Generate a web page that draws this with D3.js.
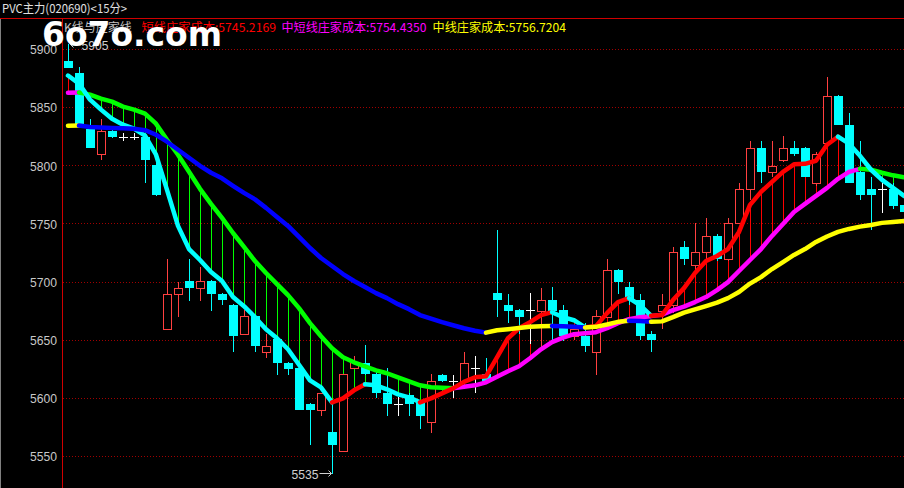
<!DOCTYPE html>
<html><head><meta charset="utf-8">
<script src="https://cdn.jsdelivr.net/npm/d3@7/dist/d3.min.js"></script>
<style>html,body{margin:0;padding:0;background:#000;overflow:hidden}</style>
</head><body>
<svg id="c" width="904" height="488" style="display:block;background:#000"></svg>
<script>
// ---- data ----
const title = "PVC主力(020690)<15分>";
const indicatorName = "K线与庄家线";
const legendLabels = ["短线庄家成本:5745.2169", "中短线庄家成本:5754.4350", "中线庄家成本:5756.7204"];
const yTicks = [5550, 5600, 5650, 5700, 5750, 5800, 5850, 5900];

const opens  = [5890,5880,5832,5810,5830,5825,5825,5825,5801,5660,5690,5701,5695,5701,5690,5680,5655,5671,5640,5651,
                5630,5626,5595,5590,5571,5555,5626,5630,5621,5605,5595,5603,5597,5580,5620,5615,5615,5626,5621,5691,
                5680,5676,5676,5675,5685,5676,5654,5654,5640,5670,5710,5696,5685,5655,5675,5680,5730,5715,5726,5740,
                5720,5751,5780,5815,5795,5805,5815,5815,5785,5820,5860,5835,5795,5780,5780,5780,5766];
const highs  = [5905,5885,5840,5840,5831,5828,5828,5827,5803,5720,5700,5720,5713,5702,5691,5681,5676,5672,5655,5652,
                5631,5627,5596,5605,5595,5621,5636,5646,5623,5626,5601,5605,5598,5621,5621,5620,5640,5636,5635,5745,
                5690,5677,5691,5695,5696,5680,5663,5665,5676,5720,5711,5700,5690,5658,5690,5730,5735,5751,5755,5741,
                5755,5785,5821,5821,5821,5826,5821,5816,5812,5876,5861,5845,5821,5790,5785,5785,5767];
const lows   = [5884,5835,5815,5805,5824,5821,5822,5785,5774,5660,5670,5684,5684,5675,5680,5640,5655,5640,5635,5620,
                5620,5590,5560,5585,5535,5555,5626,5620,5600,5585,5585,5585,5574,5570,5614,5600,5615,5605,5615,5670,
                5665,5655,5647,5641,5650,5649,5650,5640,5620,5670,5690,5680,5650,5640,5660,5673,5715,5708,5720,5718,
                5718,5750,5771,5785,5790,5803,5808,5790,5783,5818,5835,5785,5771,5745,5759,5763,5760];
const closes = [5884,5836,5815,5830,5825,5825,5825,5805,5775,5690,5695,5695,5701,5690,5685,5654,5671,5645,5645,5630,
                5625,5590,5590,5605,5560,5621,5631,5621,5605,5595,5595,5595,5585,5615,5615,5615,5630,5626,5615,5685,
                5675,5670,5676,5685,5675,5654,5660,5645,5671,5710,5700,5684,5654,5650,5680,5726,5720,5726,5740,5720,
                5751,5780,5815,5795,5800,5815,5810,5790,5810,5860,5835,5785,5775,5775,5780,5765,5760];

// 短线庄家成本
const shortCost = [5877.6,5870.7,5856.9,5848.3,5840.5,5835.3,5831.9,5825.9,5809.5,5779.3,5748.3,5728.4,5719.0,5708.6,5700.9,5687.1,5679.3,5669.8,5659.5,5651.7,
                   5642.2,5628.9,5615.5,5609.5,5596.6,5600.0,5606.9,5612.1,5611.2,5607.8,5603.4,5600.9,5596.6,5600.0,5604.3,5608.6,5614.2,5618.1,5619.0,5635.3,
                   5651.7,5660.3,5665.5,5671.6,5674.1,5669.8,5667.2,5661.1,5662.1,5673.3,5682.8,5686.2,5680.2,5671.1,5671.6,5684.5,5694.8,5707.8,5718.1,5722.4,
                   5728.4,5743.1,5766.4,5777.6,5786.2,5794.8,5801.3,5801.7,5804.3,5818.1,5825.0,5819.0,5808.6,5796.6,5787.9,5781.0,5774.1];
// 中短线庄家成本
const midShortCost = [5862.9,5863.0,5861.2,5857.8,5855.2,5850.9,5848.3,5844.8,5836.2,5822.4,5809.5,5794.8,5780.2,5767.2,5755.2,5742.2,5730.2,5718.1,5707.8,5698.3,
                      5688.8,5677.6,5664.7,5653.4,5643.1,5635.3,5631.0,5627.6,5624.1,5621.6,5618.1,5614.7,5611.2,5609.5,5609.1,5608.6,5609.9,5611.2,5613.8,5618.5,
                      5623.3,5627.6,5634.5,5642.2,5648.3,5652.2,5655.2,5656.0,5656.9,5660.3,5664.7,5668.1,5669.8,5670.7,5672.0,5675.9,5678.9,5682.8,5687.1,5693.1,
                      5700.0,5709.5,5719.0,5728.4,5739.7,5750.0,5760.3,5767.2,5774.1,5781.0,5788.8,5794.8,5797.4,5796.6,5794.0,5791.8,5790.1];
// 中线庄家成本
const midCost = [5834.5,5834.6,5833.4,5832.9,5832.5,5832.3,5831.9,5830.6,5826.7,5820.7,5813.8,5806.9,5800.0,5794.0,5789.2,5782.8,5776.7,5771.1,5763.8,5756.0,
                 5748.3,5738.8,5729.3,5720.7,5713.8,5706.9,5700.9,5695.7,5690.5,5686.2,5681.0,5676.7,5671.6,5668.5,5665.5,5662.9,5660.3,5658.2,5656.5,5658.6,
                 5659.5,5660.5,5661.5,5662.1,5662.3,5662.1,5661.6,5661.0,5661.5,5663.5,5665.8,5666.8,5666.6,5665.9,5666.2,5669.8,5673.7,5676.5,5679.3,5682.3,
                 5686.2,5691.4,5698.7,5704.3,5711.2,5717.2,5723.3,5728.4,5734.5,5739.2,5743.1,5745.7,5747.7,5749.1,5750.9,5751.7,5752.6];

// ---- chart ----
const W = 904, H = 488;
const svg = d3.select("#c");
const N = opens.length;
const x = d3.scaleLinear().domain([0, N - 1]).range([68.5, 904.5]);
const y = d3.scaleLinear().domain([5550, 5900]).range([456.5, 49.5]);
const px = k => Math.floor(x(k)) + 0.5;
const py = v => Math.round(y(v));

const UP = "#ff4040", DOWN = "#00ffff";

// frame
svg.append("line").attr("x1", 0).attr("x2", W).attr("y1", 18.5).attr("y2", 18.5)
  .attr("stroke", "#d00000").attr("stroke-width", 1);
svg.append("line").attr("x1", 62.5).attr("x2", 62.5).attr("y1", 18).attr("y2", H)
  .attr("stroke", "#d00000").attr("stroke-width", 1);
svg.append("line").attr("x1", 0.5).attr("x2", 0.5).attr("y1", 19).attr("y2", H)
  .attr("stroke", "#808080").attr("stroke-width", 1);

// title
svg.append("text").attr("x", 2).attr("y", 13).attr("fill", "#e0e0e0")
  .attr("font-family", "'Noto Sans CJK SC', sans-serif").attr("font-size", 12)
  .attr("textLength", 125).attr("lengthAdjust", "spacingAndGlyphs").text(title);

// grid
svg.append("g").selectAll("line").data(yTicks).join("line")
  .attr("x1", 63).attr("x2", W)
  .attr("y1", d => Math.floor(y(d)) + 0.5).attr("y2", d => Math.floor(y(d)) + 0.5)
  .attr("stroke", "#a00000").attr("stroke-width", 1).attr("stroke-dasharray", "1,2");

// y axis
const yAxis = d3.axisLeft(y).tickValues(yTicks).tickSize(0).tickPadding(5).tickFormat(d3.format("d"));
const ga = svg.append("g").attr("transform", "translate(62,0)").call(yAxis);
ga.select(".domain").remove();
ga.selectAll("text").attr("fill", "#c8c8c8").attr("font-family", "'Liberation Sans', Arial, sans-serif")
  .attr("font-size", 13.5).attr("textLength", 27).attr("lengthAdjust", "spacingAndGlyphs");

// plot area clip
svg.append("clipPath").attr("id", "plot").append("rect")
  .attr("x", 63).attr("y", 19).attr("width", W - 63).attr("height", H - 19);
const plot = svg.append("g").attr("clip-path", "url(#plot)");

// hatches between short and mid-short cost
const idx = d3.range(N);
plot.append("g").attr("shape-rendering", "crispEdges").selectAll("line").data(idx).join("line")
  .attr("x1", px).attr("x2", px)
  .attr("y1", k => y(shortCost[k])).attr("y2", k => y(midShortCost[k]))
  .attr("stroke", k => shortCost[k] >= midShortCost[k] ? "#ff0000" : "#00ff00")
  .attr("stroke-width", 1);

// candles
const cg = plot.append("g").attr("shape-rendering", "crispEdges");
idx.forEach(k => {
  const cx = px(k);
  const o = opens[k], c = closes[k], h = highs[k], l = lows[k];
  if (o === c) {
    cg.append("line").attr("x1", cx).attr("x2", cx).attr("y1", py(h)).attr("y2", py(l)).attr("stroke", "#ffffff");
    cg.append("line").attr("x1", cx - 4.5).attr("x2", cx + 4.5).attr("y1", py(o) + 0.5).attr("y2", py(o) + 0.5).attr("stroke", "#ffffff");
  } else if (c > o) {
    const top = py(c), bot = py(o);
    cg.append("line").attr("x1", cx).attr("x2", cx).attr("y1", py(h)).attr("y2", top).attr("stroke", UP);
    cg.append("line").attr("x1", cx).attr("x2", cx).attr("y1", bot).attr("y2", py(l)).attr("stroke", UP);
    cg.append("rect").attr("x", cx - 4).attr("y", top + 0.5).attr("width", 8).attr("height", Math.max(1, bot - top))
      .attr("fill", "#000").attr("stroke", UP).attr("stroke-width", 1);
  } else {
    const top = py(o), bot = py(c);
    cg.append("line").attr("x1", cx).attr("x2", cx).attr("y1", py(h)).attr("y2", py(l)).attr("stroke", DOWN);
    cg.append("rect").attr("x", cx - 4.5).attr("y", top).attr("width", 9).attr("height", Math.max(1, bot - top))
      .attr("fill", DOWN);
  }
});

// cost lines, coloured by direction
function drawCost(series, upColor, downColor) {
  const runs = [];
  for (let k = 1; k < series.length; k++) {
    const col = series[k] >= series[k - 1] ? upColor : downColor;
    const last = runs[runs.length - 1];
    if (last && last.col === col) last.pts.push(k);
    else runs.push({ col, pts: [k - 1, k] });
  }
  const gen = d3.line().x(k => x(k) - 0.5).y(k => y(series[k]));
  plot.append("g").selectAll("path").data(runs).join("path")
    .attr("d", r => gen(r.pts)).attr("fill", "none").attr("stroke", r => r.col)
    .attr("stroke-width", 4.5).attr("stroke-linejoin", "round").attr("stroke-linecap", "round");
}
drawCost(midShortCost, "#ff00ff", "#00ff00");
drawCost(shortCost, "#ff0000", "#00ffff");
drawCost(midCost, "#ffff00", "#0000ff");

// extreme labels
const lblFont = "'Liberation Sans', Arial, sans-serif";
const kMax = highs.indexOf(d3.max(highs)), kMin = lows.indexOf(d3.min(lows));
{
  const cx = px(kMax), yy = Math.round(y(highs[kMax])) + 0.5;
  svg.append("path").attr("d", `M${cx + 12},${yy}H${cx + 2}M${cx + 5},${yy - 3}L${cx + 2},${yy}L${cx + 5},${yy + 3}`)
    .attr("stroke", "#d0d0d0").attr("fill", "none");
  svg.append("text").attr("x", cx + 13).attr("y", yy + 5).attr("fill", "#d0d0d0")
    .attr("font-family", lblFont).attr("font-size", 13).attr("textLength", 27).attr("lengthAdjust", "spacingAndGlyphs")
    .text(d3.format("d")(highs[kMax]));
}
{
  const cx = px(kMin), yy = Math.round(y(lows[kMin])) - 0.5;
  svg.append("path").attr("d", `M${cx - 13},${yy}H${cx - 1}M${cx - 4},${yy - 3}L${cx - 1},${yy}L${cx - 4},${yy + 3}`)
    .attr("stroke", "#d0d0d0").attr("fill", "none");
  svg.append("text").attr("x", cx - 14).attr("y", yy + 5).attr("text-anchor", "end").attr("fill", "#d0d0d0")
    .attr("font-family", lblFont).attr("font-size", 13).attr("textLength", 27).attr("lengthAdjust", "spacingAndGlyphs")
    .text(d3.format("d")(lows[kMin]));
}

// legend
const cjk = "'Noto Sans CJK SC', sans-serif";
svg.append("text").attr("x", 64).attr("y", 32).attr("fill", "#c0c0c0").attr("font-family", cjk)
  .attr("font-size", 12).text(indicatorName);
const legendX = [141.5, 281.5, 432.5], legendLen = [134.5, 145, 133.5];
const legendColors = ["#ff0000", "#ff00ff", "#ffff00"];
legendLabels.forEach((t, i) => {
  svg.append("text").attr("x", legendX[i]).attr("y", 32).attr("fill", legendColors[i])
    .attr("font-family", cjk).attr("font-size", 12)
    .attr("textLength", legendLen[i]).attr("lengthAdjust", "spacingAndGlyphs").text(t);
});

// watermark
svg.append("text").attr("x", 42).attr("y", 46).attr("fill", "#ffffff")
  .attr("font-family", "'DejaVu Sans', sans-serif").attr("font-weight", "bold").attr("font-size", 33)
  .attr("textLength", 180).attr("lengthAdjust", "spacingAndGlyphs").text("6o7o.com");
</script>
</body></html>
